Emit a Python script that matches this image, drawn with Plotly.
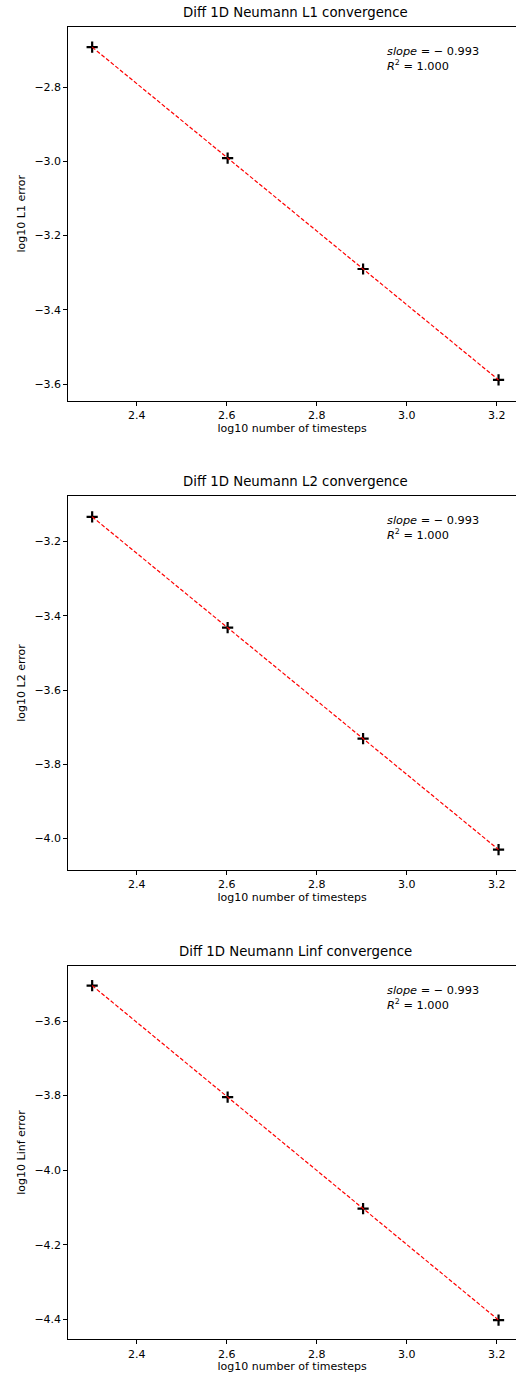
import numpy as np
import plotly.graph_objects as go

# ---- data ----
timesteps = [200, 400, 800, 1600]
log_steps = [float(np.log10(t)) for t in timesteps]
l1_err = [-2.692, -2.991, -3.290, -3.589]
l2_err = [-3.133, -3.432, -3.731, -4.030]
linf_err = [-3.505, -3.804, -4.103, -4.402]
norm_names = ["L1", "L2", "Linf"]
series = [l1_err, l2_err, linf_err]
y_ticks = [
    [-2.8, -3.0, -3.2, -3.4, -3.6],
    [-3.2, -3.4, -3.6, -3.8, -4.0],
    [-3.6, -3.8, -4.0, -4.2, -4.4],
]
y_ranges = [[-3.645, -2.637], [-4.085, -3.077], [-4.4536, -3.4517]]
x_ticks = [2.4, 2.6, 2.8, 3.0, 3.2]

W, H = 516, 1382
panel_px = [(26.7, 400.7), (496.0, 870.0), (965.7, 1339.3)]
left_px = 68.3
x_range = [2.248, 3.2429]

FONT = "DejaVu Sans"
fig = go.Figure()
annotations = []

for i, (name, ys) in enumerate(zip(norm_names, series)):
    k = "" if i == 0 else str(i + 1)
    xa, ya = "x" + k, "y" + k
    slope, intercept = np.polyfit(log_steps, ys, 1)
    fit = [slope * x + intercept for x in log_steps]
    pred = np.array(fit)
    yarr = np.array(ys)
    r2 = 1 - np.sum((yarr - pred) ** 2) / np.sum((yarr - yarr.mean()) ** 2)

    fig.add_trace(go.Scatter(
        x=log_steps, y=ys, mode="markers", xaxis=xa, yaxis=ya,
        marker=dict(symbol="cross-thin", size=8, color="black",
                    line=dict(color="black", width=2.2)),
        showlegend=False, hoverinfo="skip"))
    fig.add_trace(go.Scatter(
        x=log_steps, y=fit, mode="lines", xaxis=xa, yaxis=ya,
        line=dict(color="red", width=1.2, dash="4px,2px"),
        showlegend=False, hoverinfo="skip"))

    top, bot = panel_px[i]
    dom = [1 - bot / H, 1 - top / H]
    fig.layout["xaxis" + k] = dict(
        domain=[left_px / W, 1], range=x_range, anchor=ya,
        tickvals=x_ticks, ticktext=[f"{v:.1f}" for v in x_ticks],
        ticks="outside", ticklen=4, tickwidth=1, tickcolor="black",
        showline=True, linecolor="black", linewidth=1, mirror=True,
        showgrid=False, zeroline=False,
        tickfont=dict(family=FONT, size=11, color="black"),
        title=dict(text="log10 number of timesteps", standoff=0,
                   font=dict(family=FONT, size=11, color="black")))
    fig.layout["yaxis" + k] = dict(
        domain=dom, range=y_ranges[i], anchor=xa,
        tickvals=y_ticks[i], ticktext=[f"\u2212{abs(v):.1f}" for v in y_ticks[i]],
        ticks="outside", ticklen=4, tickwidth=1, tickcolor="black",
        showline=True, linecolor="black", linewidth=1, mirror=False,
        showgrid=False, zeroline=False,
        tickfont=dict(family=FONT, size=11, color="black"),
        title=dict(text=f"log10 {name} error", standoff=6,
                   font=dict(family=FONT, size=11, color="black")))

    annotations.append(dict(
        text=f"Diff 1D Neumann {name} convergence",
        xref="paper", yref="paper", x=295 / W, y=1 - (top - 5) / H,
        xanchor="center", yanchor="bottom", showarrow=False,
        font=dict(family=FONT, size=13.3, color="black")))
    annotations.append(dict(
        text=f"<i>slope</i> = \u2212 {abs(slope):.3f}<br><i>R</i><sup>2</sup> = {r2:.3f}",
        xref="paper", yref="paper", x=385 / W, y=1 - (top + 16) / H,
        xanchor="left", yanchor="top", align="left", showarrow=False,
        font=dict(family=FONT, size=11.3, color="black")))

fig.update_layout(
    width=W, height=H, margin=dict(l=0, r=0, t=0, b=0),
    paper_bgcolor="white", plot_bgcolor="white",
    annotations=annotations,
)

fig.write_html("out.html", config={"displayModeBar": False},
               post_script="document.body.style.margin='0px';document.body.style.overflow='hidden';")
